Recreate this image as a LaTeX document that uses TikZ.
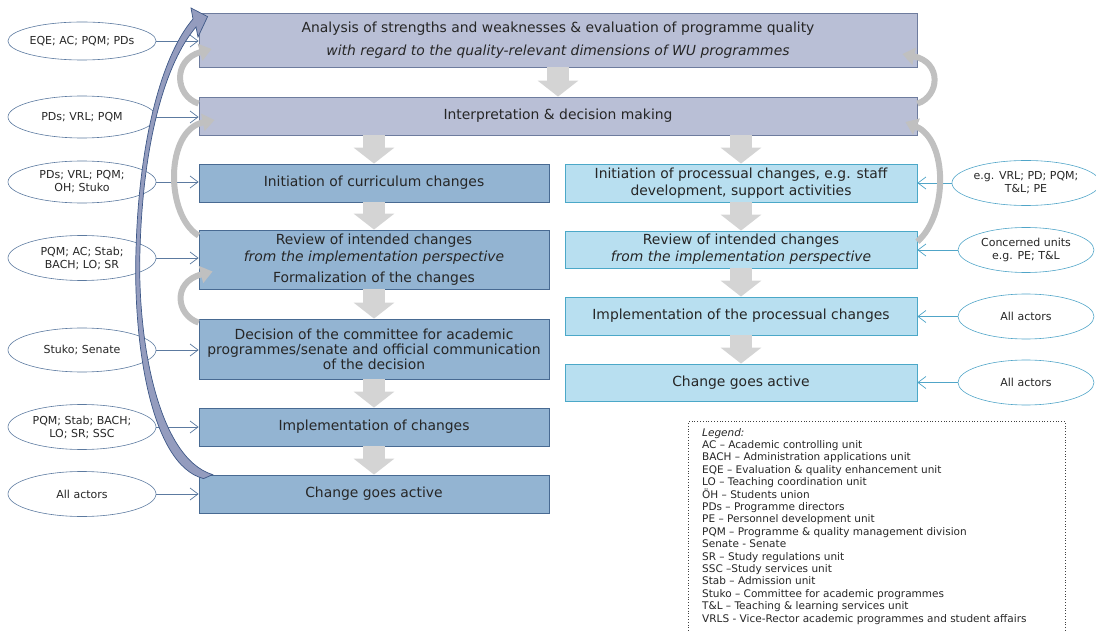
\documentclass[tikz,border=0pt]{standalone}
\usepackage{fontspec}
\setmainfont{DejaVu Sans}
\usetikzlibrary{arrows.meta, calc, shapes.geometric, positioning}
\tikzset{>=stealth}
\definecolor{phasefill}{RGB}{185,191,214}
\definecolor{phaseline}{RGB}{110,124,158}
\definecolor{curfill}{RGB}{147,180,210}
\definecolor{curline}{RGB}{72,106,146}
\definecolor{procfill}{RGB}{184,223,240}
\definecolor{procline}{RGB}{75,168,200}
\definecolor{actleft}{RGB}{92,122,160}
\definecolor{actright}{RGB}{80,165,200}
\definecolor{loopgray}{RGB}{192,192,192}
\definecolor{stepgray}{RGB}{212,212,212}
\definecolor{backfill}{RGB}{148,156,190}
\definecolor{backline}{RGB}{62,88,135}
\definecolor{txt}{RGB}{38,38,38}

\begin{document}
\begin{tikzpicture}[x=1pt,y=-1pt,text=txt,
    box/.style={draw, line width=0.8pt, align=center, inner sep=0pt, font=\fontsize{13.9}{17}\selectfont},
    phase/.style={box, fill=phasefill, draw=phaseline, minimum width=718pt},
    curbox/.style={box, fill=curfill, draw=curline, minimum width=350pt},
    procbox/.style={box, fill=procfill, draw=procline, minimum width=352pt},
    actor/.style={ellipse, draw, line width=0.6pt, inner sep=0pt, align=center, font=\fontsize{11}{13}\selectfont},
    actorL/.style={actor, draw=actleft, minimum width=148pt, minimum height=42pt},
    actorR/.style={actor, draw=actright, minimum width=136pt, minimum height=45pt},
    feed/.style={line width=0.7pt, -{Straight Barb[length=8pt,width=12pt]}},
    stepdown/.style={stepgray, line width=22pt, -{Triangle[length=16pt,width=40pt]}},
    loopback/.style={loopgray, line width=6pt, -{Triangle[length=12pt,width=17pt]}}]
        \useasboundingbox (0,0) rectangle (1096,631);
        \clip (0,0) rectangle (1096,631);
        % phases
        \node[phase, minimum height=54pt, font=\fontsize{13.9}{23}\selectfont] (A) at (558,40) {Analysis of strengths and weaknesses \& evaluation of programme quality\\ \textit{with regard to the quality-relevant dimensions of WU programmes}};
        \node[phase, minimum height=38pt] (B) at (558,116) {Interpretation \& decision making};
        % curriculum column
        \node[curbox, minimum height=38pt] (L1) at (374,183) {Initiation of curriculum changes};
        \node[curbox, minimum height=59pt] (L2) at (374,259.5) {Review of intended changes\\ \textit{from the implementation perspective}\\[4pt] Formalization of the changes};
        \node[curbox, minimum height=60pt, font=\fontsize{13.9}{15}\selectfont] (L3) at (374,349) {Decision of the committee for academic\\ programmes/senate and official communication\\ of the decision};
        \node[curbox, minimum height=38pt] (L4) at (374,427) {Implementation of changes};
        \node[curbox, minimum height=38pt] (L5) at (374,494) {Change goes active};
        % process column
        \node[procbox, minimum height=38pt] (R1) at (741,183) {Initiation of processual changes, e.g. staff\\ development, support activities};
        \node[procbox, minimum height=37pt] (R2) at (741,249.5) {Review of intended changes\\ \textit{from the implementation perspective}};
        \node[procbox, minimum height=38pt] (R3) at (741,316) {Implementation of the processual changes};
        \node[procbox, minimum height=37pt] (R4) at (741,382.5) {Change goes active};
        % actors
        \node[actorL, minimum height=38pt] (e1) at (82,41) {EQE; AC; PQM; PDs};
        \node[actorL] (e2) at (82,117) {PDs; VRL; PQM};
        \node[actorL] (e3) at (82,182) {PDs; VRL; PQM;\\ OH; Stuko};
        \node[actorL, minimum height=45pt] (e4) at (82,258) {PQM; AC; Stab;\\ BACH; LO; SR};
        \node[actorL, minimum height=44pt] (e5) at (82,350) {Stuko; Senate};
        \node[actorL, minimum height=45pt] (e6) at (82,427) {PQM; Stab; BACH;\\ LO; SR; SSC};
        \node[actorL, minimum height=45pt] (e7) at (82,494) {All actors};
        \node[actorR] (r1) at (1026,183) {e.g. VRL; PD; PQM;\\ T\&L; PE};
        \node[actorR] (r2) at (1026,250) {Concerned units\\ e.g. PE; T\&L};
        \node[actorR] (r3) at (1026,316.5) {All actors};
        \node[actorR] (r4) at (1026,382.5) {All actors};
        \foreach \e/\b in {e1/A, e2/B, e3/L1, e4/L2, e5/L3, e6/L4, e7/L5}
            \draw[feed, actleft] (\e.east) -- (\e.east -| \b.west);
        \foreach \e/\b in {r1/R1, r2/R2, r3/R3, r4/R4}
            \draw[feed, actright] (\e.west) -- (\e.west -| \b.east);
        % steps
        \draw[stepdown] (A.south) -- (B.north);
        \draw[stepdown] (B.south -| L1.north) -- (L1.north);
        \draw[stepdown] (B.south -| R1.north) -- (R1.north);
        \foreach \u/\v in {L1/L2, L2/L3, L3/L4, L4/L5, R1/R2, R2/R3, R3/R4}
            \draw[stepdown] (\u.south) -- (\v.north);
        % loops
        \draw[loopback] ($(B.north west)+(0,7)$) .. controls (175,96) and (172,60) .. ($(A.west)+(13,9)$);
        \draw[loopback] ($(L2.north west)+(0,6)$) .. controls (165,215) and (165,130) .. ($(B.west)+(16,4)$);
        \draw[loopback] ($(L3.north west)+(0,4)$) .. controls (176,315) and (172,282) .. ($(L2.west)+(14,12)$);
        \draw[loopback] ($(B.north east)+(0,7)$) .. controls (940,96) and (942,62) .. ($(A.east)+(-15,14)$);
        \draw[loopback] ($(R2.north east)+(0,11)$) .. controls (948,215) and (948,140) .. ($(B.east)+(-12,6)$);
        % back to analysis
        \filldraw[fill=backfill, draw=backline, line width=0.7pt] ($(L5.north west)+(5,4)$) .. controls (150,465) and (133,340) .. (136,250)
            .. controls (139,140) and (162,55) .. (193,19) -- (191,8) -- ($(A.north west)+(9,4)$) -- (198,37) -- (196,27)
            .. controls (166,62) and (143,140) .. (140,250) .. controls (137,340) and (158,458) .. ($(L5.north west)+(14,0)$) -- cycle;
        % legend
        \node[draw=black!75, dotted, line width=0.8pt, anchor=north west, minimum width=377pt, minimum height=230pt] (legend) at (688,421) {};
        \node[anchor=north west, align=left, inner sep=0pt, font=\fontsize{10.5}{12.4}\selectfont] (legendtext) at (702,428) {\textit{Legend:}\\
            AC – Academic controlling unit\\
            BACH – Administration applications unit\\
            EQE – Evaluation \& quality enhancement unit\\
            LO – Teaching coordination unit\\
            ÖH – Students union\\
            PDs – Programme directors\\
            PE – Personnel development unit\\
            PQM – Programme \& quality management division\\
            Senate - Senate\\
            SR – Study regulations unit\\
            SSC –Study services unit\\
            Stab – Admission unit\\
            Stuko – Committee for academic programmes\\
            T\&L – Teaching \& learning services unit\\
            VRLS - Vice-Rector academic programmes and student affairs};
\end{tikzpicture}
\end{document}
